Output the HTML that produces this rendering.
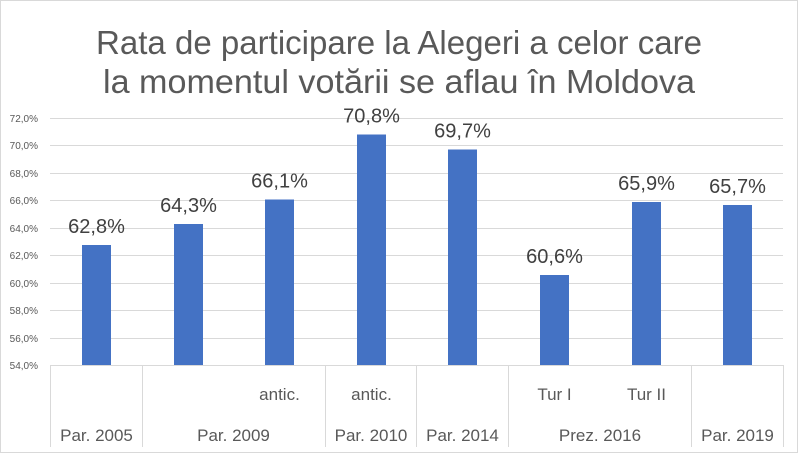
<!DOCTYPE html>
<html><head><meta charset="utf-8"><style>
html,body{margin:0;padding:0;background:#fff}
svg{display:block;font-family:"Liberation Sans",sans-serif}
</style></head><body>
<svg width="799" height="454" viewBox="0 0 799 454">
<rect x="0.5" y="0.5" width="797" height="452" fill="#fff" stroke="#d9d9d9"/>
<text x="399" y="54" font-size="33" fill="#595959" text-anchor="middle" textLength="606" lengthAdjust="spacingAndGlyphs">Rata de participare la Alegeri a celor care</text>
<text x="399" y="93" font-size="33" fill="#595959" text-anchor="middle" textLength="592" lengthAdjust="spacingAndGlyphs">la momentul votării se aflau în Moldova</text>
<g stroke="#d9d9d9" stroke-width="1">
<line x1="50" x2="783" y1="118.5" y2="118.5"/>
<line x1="50" x2="783" y1="145.5" y2="145.5"/>
<line x1="50" x2="783" y1="173.5" y2="173.5"/>
<line x1="50" x2="783" y1="200.5" y2="200.5"/>
<line x1="50" x2="783" y1="228.5" y2="228.5"/>
<line x1="50" x2="783" y1="255.5" y2="255.5"/>
<line x1="50" x2="783" y1="283.5" y2="283.5"/>
<line x1="50" x2="783" y1="310.5" y2="310.5"/>
<line x1="50" x2="783" y1="338.5" y2="338.5"/>
<line x1="50" x2="783" y1="365.5" y2="365.5"/>
<line x1="50.5" x2="50.5" y1="365" y2="447"/>
<line x1="142.5" x2="142.5" y1="365" y2="447"/>
<line x1="325.5" x2="325.5" y1="365" y2="447"/>
<line x1="416.5" x2="416.5" y1="365" y2="447"/>
<line x1="508.5" x2="508.5" y1="365" y2="447"/>
<line x1="691.5" x2="691.5" y1="365" y2="447"/>
<line x1="783.5" x2="783.5" y1="365" y2="447"/>
</g>
<g font-size="10" fill="#595959" text-anchor="end">
<text x="38" y="122">72,0%</text><text x="38" y="149">70,0%</text><text x="38" y="177">68,0%</text>
<text x="38" y="204">66,0%</text><text x="38" y="232">64,0%</text><text x="38" y="259">62,0%</text>
<text x="38" y="287">60,0%</text><text x="38" y="314">58,0%</text><text x="38" y="342">56,0%</text>
<text x="38" y="369">54,0%</text>
</g>
<g fill="#4472c4">
<rect x="82" y="245" width="29" height="120"/>
<rect x="174" y="224" width="29" height="141"/>
<rect x="265" y="199.5" width="29" height="165.5"/>
<rect x="357" y="134.5" width="29" height="230.5"/>
<rect x="448" y="149.5" width="29" height="215.5"/>
<rect x="540" y="275" width="29" height="90"/>
<rect x="632" y="202" width="29" height="163"/>
<rect x="723" y="205" width="29" height="160"/>
</g>
<g font-size="20" fill="#404040" text-anchor="middle">
<text x="96.5" y="233">62,8%</text>
<text x="188.5" y="212">64,3%</text>
<text x="279.5" y="187.5">66,1%</text>
<text x="371.5" y="122.5">70,8%</text>
<text x="462.5" y="137.5">69,7%</text>
<text x="554.5" y="263">60,6%</text>
<text x="646.5" y="190">65,9%</text>
<text x="737.5" y="193">65,7%</text>
</g>
<g font-size="17" fill="#595959" text-anchor="middle">
<text x="279.5" y="400">antic.</text>
<text x="371.5" y="400">antic.</text>
<text x="554.5" y="400">Tur I</text>
<text x="646.5" y="400">Tur II</text>
<text x="96.5" y="441">Par. 2005</text>
<text x="233.5" y="441">Par. 2009</text>
<text x="371" y="441">Par. 2010</text>
<text x="462.5" y="441">Par. 2014</text>
<text x="600" y="441">Prez. 2016</text>
<text x="737.5" y="441">Par. 2019</text>
</g>
</svg>
</body></html>
